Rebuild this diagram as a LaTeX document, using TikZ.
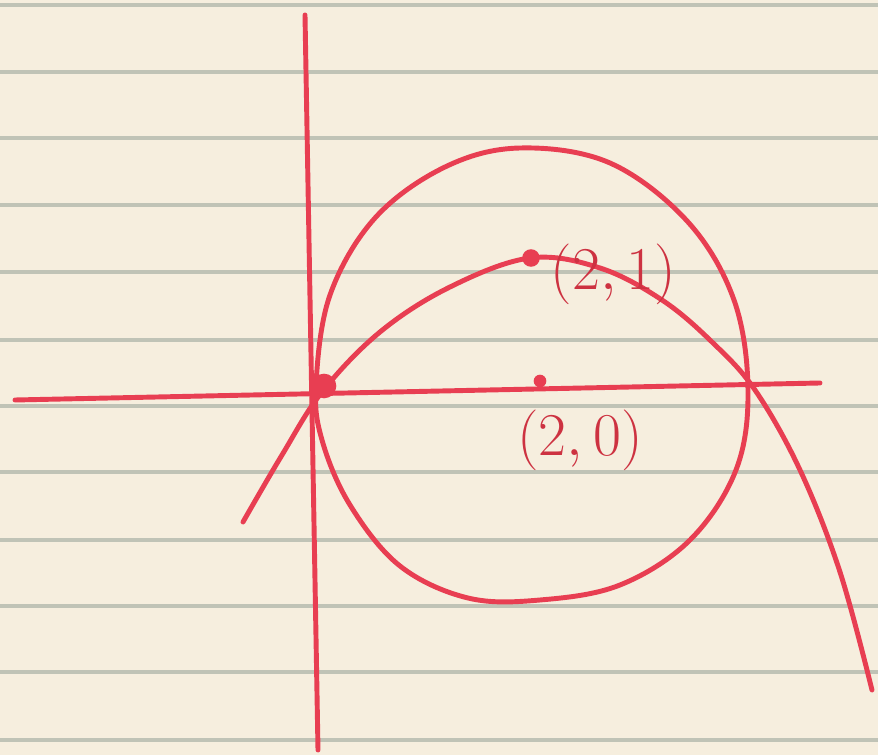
\documentclass[tikz,border=0pt]{standalone}
\usetikzlibrary{calc}
\definecolor{papercolor}{RGB}{246, 238, 222}
\definecolor{rulecolor} {RGB}{192, 195, 182}
\definecolor{inkcolor}  {RGB}{232, 62, 82}
\definecolor{labelcolor}{RGB}{205, 50, 65}
\tikzset{
	paperline/.style={
		line width=1.1pt, color=rulecolor
	},
	inkline/.style={
		line width=1.4pt, color=inkcolor, line cap=round, line join=round
	},
	inkdot/.style={
		circle, fill=inkcolor, inner sep=0pt
	},
	handlabel/.style={
		font=\fontsize{17}{19}\selectfont, text=labelcolor, inner sep=0pt
	}
}
\begin{document}
\begin{tikzpicture}[x=0.01cm, y=-0.01cm]
		
		%% ═══════════════════════════════
		%%  PAPER
		%% ═══════════════════════════════
		\fill[papercolor] (0,0) rectangle (878,755);
		\useasboundingbox (0,0) rectangle (878,755);
		\foreach \ry in {5,72,138,205,272,340,406,472,540,606,672,740}
		\draw[paperline] (0,\ry) -- (878,\ry);
		
		%% ═══════════════════════════════
		%%  AXES
		%% ═══════════════════════════════
		\coordinate (ytop)   at (305,15);
		\coordinate (ybot)   at (318,750);
		\coordinate (xleft)  at (15,400);
		\coordinate (xright) at (820,383);
		\draw[inkline] (ytop) -- (ybot);
		\draw[inkline] (xleft) -- (xright);
		
		%% ═══════════════════════════════
		%%  CIRCLE round (2,0)
		%% ═══════════════════════════════
		\draw[inkline] plot[smooth cycle, tension=0.6] coordinates {
			(316,385) (330,295) (375,218) (445,167) (520,148) (610,163)
			(688,222) (734,300) (748,390) (736,470) (690,540) (620,585)
			(540,600) (468,598) (400,566) (350,505) (322,440)};
		
		%% ═══════════════════════════════
		%%  PARABOLA through (0,0), top at (2,1)
		%% ═══════════════════════════════
		\draw[inkline] plot[smooth, tension=0.6] coordinates {
			(243,522) (282,455) (322,392) (380,332) (450,287) (530,258)
			(600,268) (662,300) (712,342) (755,390) (800,470) (840,572)
			(872,690)};
		
		%% ═══════════════════════════════
		%%  POINTS + LABELS
		%% ═══════════════════════════════
		\node[inkdot, minimum size=7pt] (origin) at (324,386) {};
		\node[inkdot, minimum size=5pt] (vertex) at (531,258) {};
		\node[inkdot, minimum size=3.6pt] (centre) at (540,381) {};
		\node[handlabel, anchor=west] (vlabel) at (550,274) {$(2,1)$};
		\node[handlabel] (clabel) at (580,440) {$(2,0)$};
		
	\end{tikzpicture}
\end{document}
